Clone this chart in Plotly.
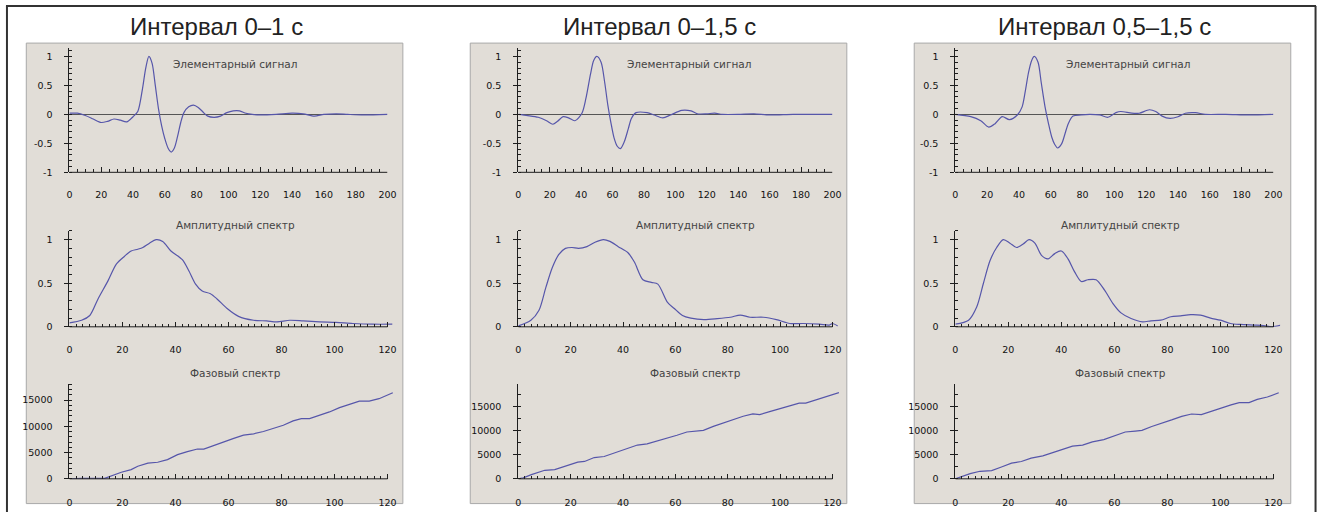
import plotly.graph_objects as go

W, H = 1330, 517

# ---------------- data ----------------
panel_titles = ["Интервал 0–1 с", "Интервал 0–1,5 с", "Интервал 0,5–1,5 с"]
sub_titles = ["Элементарный сигнал", "Амплитудный спектр", "Фазовый спектр"]

# Elementary signal (normalized), x in samples 0..200
sig1_x = [0, 5, 10, 15, 20, 24, 28, 32, 36, 40, 43, 46, 48, 50, 52, 54, 56, 58, 60, 62, 64, 66, 68, 70, 72, 75, 78, 81, 84, 87, 91, 95, 99, 103, 107, 111, 115, 120, 130, 140, 147, 154, 160, 168, 175, 185, 200]
sig1_y = [0.02, 0.02, -0.02, -0.08, -0.14, -0.12, -0.08, -0.10, -0.13, -0.04, 0.05, 0.45, 0.80, 1.0, 0.88, 0.5, 0.1, -0.2, -0.42, -0.58, -0.65, -0.58, -0.38, -0.14, 0.03, 0.13, 0.16, 0.12, 0.04, -0.03, -0.05, -0.03, 0.03, 0.06, 0.06, 0.02, 0.0, -0.01, 0.0, 0.02, 0.01, -0.03, 0.0, 0.01, 0.0, -0.01, 0.0]

sig2_x = [0, 6, 12.7, 18, 22, 25, 28.5, 32, 36, 40.5, 43, 46, 48, 50, 52.7, 55, 57, 59, 61, 63, 65, 67.5, 70, 72, 75, 82, 86.5, 92, 97, 104, 110, 114, 120, 125, 130, 140, 150, 160, 175, 200]
sig2_y = [0.0, -0.02, -0.05, -0.11, -0.17, -0.12, -0.04, -0.06, -0.11, 0.02, 0.27, 0.70, 0.93, 1.0, 0.9, 0.55, 0.16, -0.15, -0.41, -0.55, -0.59, -0.47, -0.25, -0.07, 0.03, 0.03, -0.01, -0.06, -0.01, 0.07, 0.06, 0.01, 0.01, 0.02, 0.0, 0.0, 0.01, -0.01, 0.0, 0.0]

sig3_x = [0, 9.7, 16, 21, 25, 29.5, 34, 39, 42, 44, 46, 48, 49.6, 52, 54, 56.4, 58.5, 60.6, 62.5, 64.3, 66.8, 69, 71, 74, 79, 84.4, 90.7, 96, 101, 104, 111, 115.6, 122, 126, 130, 135, 140, 144.6, 151, 157, 170, 185, 200]
sig3_y = [0.0, -0.04, -0.11, -0.22, -0.16, -0.04, -0.09, -0.01, 0.13, 0.40, 0.72, 0.93, 1.0, 0.9, 0.55, 0.13, -0.15, -0.39, -0.52, -0.58, -0.51, -0.33, -0.16, -0.03, -0.01, 0.0, -0.01, -0.05, 0.03, 0.05, 0.02, 0.02, 0.08, 0.05, -0.03, -0.07, -0.04, 0.02, 0.03, 0.0, 0.0, -0.01, 0.0]

# Amplitude spectrum (normalized), x in Hz
amp1_x = [0, 4.6, 7.7, 10.8, 14.6, 17.7, 20.8, 23.3, 25.8, 27.7, 30.2, 32.7, 35.2, 38.3, 42.6, 45.1, 47.6, 50.1, 53.2, 55.7, 59.5, 63.8, 69.5, 74.4, 78.2, 83.2, 88.2, 94.4, 100.6, 106.9, 114.3, 121.8]
amp1_y = [0.045, 0.075, 0.13, 0.32, 0.53, 0.72, 0.81, 0.87, 0.89, 0.91, 0.96, 1.0, 0.98, 0.87, 0.77, 0.64, 0.49, 0.41, 0.38, 0.32, 0.21, 0.12, 0.075, 0.068, 0.057, 0.075, 0.068, 0.057, 0.05, 0.038, 0.03, 0.03]

amp2_x = [0, 4.8, 7.9, 10.5, 13, 15.5, 18, 20.5, 23, 26.2, 29.3, 32.5, 35, 38.2, 41.9, 44.4, 47.6, 50.8, 53.3, 57, 59.6, 62.7, 65.9, 70.9, 76, 81, 84.8, 88.5, 93.6, 98.6, 103.7, 108.7, 115, 118.8, 120, 122]
amp2_y = [0.01, 0.075, 0.19, 0.45, 0.68, 0.83, 0.9, 0.91, 0.90, 0.92, 0.97, 1.0, 0.98, 0.92, 0.85, 0.74, 0.54, 0.51, 0.49, 0.28, 0.21, 0.13, 0.10, 0.083, 0.094, 0.11, 0.135, 0.11, 0.11, 0.083, 0.038, 0.038, 0.03, 0.02, 0.038, 0.01]

amp3_x = [0, 5, 8.1, 10.6, 13.1, 15.6, 18.1, 20.6, 23.1, 25.6, 27.8, 30, 32.5, 35, 37.5, 40, 42.5, 45, 47.5, 50, 53.1, 56.3, 59.4, 62.5, 66.3, 70.6, 73.8, 77.5, 81.3, 85, 88.8, 92.5, 96.3, 100, 103.8, 107.5, 112.5, 116.3, 119.4, 123]
amp3_y = [0.03, 0.076, 0.23, 0.50, 0.76, 0.91, 1.0, 0.96, 0.91, 0.95, 1.0, 0.96, 0.82, 0.78, 0.84, 0.87, 0.78, 0.63, 0.52, 0.54, 0.54, 0.42, 0.27, 0.16, 0.095, 0.057, 0.069, 0.076, 0.115, 0.126, 0.14, 0.134, 0.10, 0.076, 0.038, 0.027, 0.02, 0.015, 0.0, 0.02]

# Phase spectrum (unwrapped, degrees), x in Hz
ph1_x = [0, 4.6, 13.3, 16, 19.6, 23.3, 25.8, 29.6, 33.3, 37, 40.8, 44.5, 48.3, 50.7, 54.5, 58.2, 62, 65.7, 69.5, 73.2, 77, 80.7, 84.4, 87.5, 90.6, 94.4, 98.1, 101.9, 105.6, 109.4, 113.1, 116.8, 122]
ph1_y = [0, 100, 100, 600, 1260, 1760, 2400, 3000, 3150, 3650, 4600, 5170, 5670, 5670, 6300, 7060, 7690, 8320, 8570, 9000, 9580, 10200, 11030, 11470, 11470, 12100, 12730, 13550, 14180, 14800, 14800, 15250, 16380]

ph2_x = [0, 1.9, 5, 10.1, 13.9, 17.7, 22.7, 25.3, 29, 32.8, 36.6, 40.4, 45.5, 49.2, 53, 56.8, 60.6, 64.4, 67.5, 70.7, 74.5, 78.3, 82, 85.9, 89.6, 92.2, 96, 99.7, 103.5, 107.3, 109.8, 113.6, 117.4, 122.5]
ph2_y = [0, 200, 880, 1770, 1900, 2580, 3460, 3600, 4410, 4620, 5300, 5970, 7000, 7260, 7810, 8350, 9030, 9710, 9910, 10050, 10860, 11610, 12290, 12970, 13440, 13310, 13920, 14460, 15140, 15680, 15680, 16290, 17040, 17850]

ph3_x = [0, 1.9, 5.6, 9.3, 13.7, 17.4, 21.2, 24.9, 28.6, 33, 36.7, 40.5, 44.2, 48, 51.7, 56, 59.8, 64.1, 67.9, 70.4, 74.1, 77.8, 81.6, 85.4, 89.1, 92.8, 96.5, 100.2, 104, 107.1, 110.8, 113.9, 117.7, 122]
ph3_y = [0, 410, 1090, 1570, 1700, 2450, 3270, 3610, 4300, 4770, 5450, 6000, 6820, 7020, 7700, 8180, 8860, 9750, 9950, 10090, 10910, 11660, 12270, 13020, 13500, 13360, 14040, 14860, 15400, 15880, 15880, 16560, 17040, 17930]

sig_ticks = [-1, -0.5, 0, 0.5, 1]
sig_ticktext = ["-1", "-0.5", "0", "0.5", "1"]
amp_ticks = [0, 0.5, 1]
amp_ticktext = ["0", "0.5", "1"]
ph_ticks = [0, 5000, 10000, 15000]
ph_ticktext = ["0", "5000", "10000", "15000"]
sig_xticks = list(range(0, 201, 20))
spec_xticks = list(range(0, 121, 20))
ph_ymax = [18000, 19600, 19700]
ph_minor = [1000, 2500, 2500]

signals = [(sig1_x, sig1_y), (sig2_x, sig2_y), (sig3_x, sig3_y)]
amps = [(amp1_x, amp1_y), (amp2_x, amp2_y), (amp3_x, amp3_y)]
phases = [(ph1_x, ph1_y), (ph2_x, ph2_y), (ph3_x, ph3_y)]

# ---------------- layout geometry (pixels) ----------------
panel_rects = [(23.5, 43.5, 403.5, 508.5), (471.5, 43.5, 851.5, 508.5), (919.5, 43.5, 1299.5, 508.5)]
axis_x_px = [(67, 388), (520, 837), (961, 1282)]
row_y_px = [(48.8, 174), (233.2, 330), (388, 483.5)]
title_px = [(215, 27), (662, 27), (1112, 27)]
sub_title_px = [[(234, 65), (235, 227), (235, 377)],
                [(692, 65), (699, 227), (699, 377)],
                [(1135, 65), (1128, 227), (1128, 377)]]

def px_x(v):
    return v / W

def px_y(v):
    return 1 - v / H

LINE = "#5656aa"
AX = "#1e1e1e"
TICKFONT = dict(family="DejaVu Sans", size=9.5, color="#111111")

fig = go.Figure()
layout = dict(width=W, height=H, margin=dict(l=0, r=0, t=0, b=0),
              paper_bgcolor="white", plot_bgcolor="rgba(0,0,0,0)",
              showlegend=False)
shapes = []
annotations = []

for p in range(3):
    x0, y0, x1, y1 = panel_rects[p]
    shapes.append(dict(type="rect", xref="paper", yref="paper",
                       x0=px_x(x0), x1=px_x(x1), y0=px_y(y1), y1=px_y(y0),
                       fillcolor="#e1ddd7", line=dict(color="#a9a9a9", width=1),
                       layer="below"))
    tx, ty = title_px[p]
    annotations.append(dict(text=panel_titles[p], xref="paper", yref="paper",
                            x=px_x(tx), y=px_y(ty), showarrow=False,
                            xanchor="center", yanchor="middle",
                            font=dict(family="Liberation Sans", size=24, color="#222222")))
    ax0, ax1 = axis_x_px[p]
    for r in range(3):
        idx = p * 3 + r + 1
        xa = "xaxis" if idx == 1 else f"xaxis{idx}"
        ya = "yaxis" if idx == 1 else f"yaxis{idx}"
        xr = "x" if idx == 1 else f"x{idx}"
        yr = "y" if idx == 1 else f"y{idx}"
        if r == 0:
            xs, ys = signals[p]
            xrange_ = [0, 200]
            dom_x1 = ax1
            xticks = sig_xticks
            xminor = 5
            yrange = [-1, 1.14]
            yticks, ytext, yminor = sig_ticks, sig_ticktext, 0.1
            xend = 200
            shape_line = "spline"
            standoff = 15
        elif r == 1:
            xs, ys = amps[p]
            xrange_ = [0, 122.5]
            dom_x1 = ax0 + (ax1 - ax0) * 122.5 / 120
            xticks = spec_xticks
            xminor = 2.5
            yrange = [0, 1.1]
            yticks, ytext, yminor = amp_ticks, amp_ticktext, 0.1
            xend = 120
            shape_line = "spline"
            standoff = 16
        else:
            xs, ys = phases[p]
            xrange_ = [0, 122.5]
            dom_x1 = ax0 + (ax1 - ax0) * 122.5 / 120
            xticks = spec_xticks
            xminor = 2.5
            yrange = [0, ph_ymax[p]]
            yticks, ytext, yminor = ph_ticks, ph_ticktext, ph_minor[p]
            xend = 120
            shape_line = "linear"
            standoff = 17
        ty0, ty1 = row_y_px[r]
        layout[xa] = dict(domain=[px_x(ax0), px_x(dom_x1)], range=xrange_, anchor=yr,
                          showgrid=False, zeroline=False, showline=False,
                          tickmode="array", tickvals=xticks, ticktext=[str(v) for v in xticks],
                          ticks="inside", ticklen=5, tickcolor=AX, tickwidth=1,
                          ticklabelstandoff=standoff, tickfont=TICKFONT,
                          minor=dict(tick0=0, dtick=xminor, ticks="inside", ticklen=3,
                                     tickcolor=AX, showgrid=False),
                          fixedrange=True)
        layout[ya] = dict(domain=[px_y(ty1), px_y(ty0)], range=yrange, anchor=xr,
                          showgrid=False, zeroline=(r == 0), zerolinecolor="#555555",
                          zerolinewidth=1,
                          showline=True, linecolor=AX, linewidth=1,
                          tickmode="array", tickvals=yticks, ticktext=ytext,
                          ticks="outside", ticklen=4, tickcolor=AX, tickwidth=1,
                          ticklabelstandoff=10, tickfont=TICKFONT,
                          minor=dict(tick0=0, dtick=yminor, ticks="inside", ticklen=3,
                                     tickcolor=AX, showgrid=False),
                          fixedrange=True)
        # x axis line (ends at last labelled tick)
        shapes.append(dict(type="line", xref=xr, yref=f"{yr} domain",
                           x0=0, x1=xend, y0=0, y1=0,
                           line=dict(color=AX, width=1)))
        fig.add_trace(go.Scatter(x=xs, y=ys, mode="lines", xaxis=xr, yaxis=yr,
                                 line=dict(color=LINE, width=1.2, shape=shape_line,
                                           smoothing=0.8 if shape_line == "spline" else None),
                                 hoverinfo="skip"))
        sx, sy = sub_title_px[p][r]
        annotations.append(dict(text=sub_titles[r], xref="paper", yref="paper",
                                x=px_x(sx), y=px_y(sy), showarrow=False,
                                xanchor="center", yanchor="middle",
                                font=dict(family="DejaVu Sans", size=10.5, color="#444444")))

# outer frame
shapes.append(dict(type="line", xref="paper", yref="paper", x0=px_x(3), x1=px_x(1325),
                   y0=px_y(6), y1=px_y(6), line=dict(color="#333333", width=2)))
shapes.append(dict(type="line", xref="paper", yref="paper", x0=px_x(4), x1=px_x(4),
                   y0=px_y(6), y1=0, line=dict(color="#333333", width=2)))
shapes.append(dict(type="line", xref="paper", yref="paper", x0=px_x(1324.5), x1=px_x(1324.5),
                   y0=px_y(6), y1=0, line=dict(color="#333333", width=2)))

layout["shapes"] = shapes
layout["annotations"] = annotations
fig.update_layout(**layout)

fig.write_html("out.html", config={"displayModeBar": False})
